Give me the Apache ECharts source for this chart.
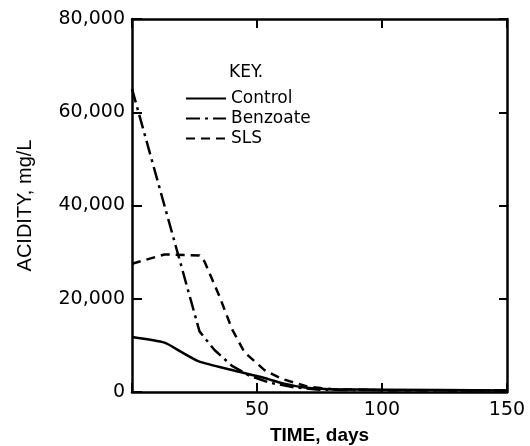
<!DOCTYPE html>
<html>
<head>
<meta charset="utf-8">
<script src="https://cdn.jsdelivr.net/npm/echarts@6/dist/echarts.min.js"></script>
<style>
html,body{margin:0;padding:0;background:#fff;}
#c{width:530px;height:446px;}
</style>
</head>
<body>
<div id="c"></div>
<script>
var xTicks = [0, 50, 100, 150];
var yTicks = [0, 20000, 40000, 60000, 80000];

var controlDays   = [0, 13, 20, 27, 40, 53, 60, 70, 80, 100, 150];
var controlValues = [11800, 10600, 8500, 6500, 4700, 3000, 1900, 900, 600, 500, 300];

var benzoateDays   = [0, 27, 33, 40, 47, 55, 65, 75, 100, 150];
var benzoateValues = [65000, 13000, 9000, 5600, 3500, 2000, 1000, 500, 400, 300];

var slsDays   = [0, 13, 27, 29, 35, 40, 45, 53, 60, 70, 80, 100, 150];
var slsValues = [27500, 29500, 29300, 28000, 20500, 13500, 8500, 4700, 2800, 1200, 600, 400, 300];

function pairs(d, v) { return d.map(function (x, i) { return [x, v[i]]; }); }

var FONT = 'DejaVu Sans';
var FONT2 = 'Liberation Sans';
var chart = echarts.init(document.getElementById('c'));
function axisLine() { return { show: true, onZero: false, lineStyle: { color: '#000', width: 2.5 } }; }
function tick(len) { return { show: true, inside: true, length: len, lineStyle: { color: '#000', width: 2 } }; }

chart.setOption({
  animation: false,
  backgroundColor: '#fff',
  textStyle: { fontFamily: FONT, color: '#000' },
  grid: { left: 132, right: 23, top: 19, bottom: 54, containLabel: false, outerBoundsMode: 'none' },
  legend: {
    orient: 'vertical',
    left: 185,
    top: 90,
    padding: 0,
    itemWidth: 40,
    itemHeight: 14,
    itemGap: 3,
    itemStyle: { opacity: 0 },
    textStyle: { fontFamily: FONT, fontSize: 17, color: '#000' },
    data: ['Control', 'Benzoate', 'SLS']
  },
  graphic: [{
    type: 'text',
    left: 229,
    top: 64,
    style: { text: 'KEY.', font: '17px "DejaVu Sans"', fill: '#000' }
  }],
  xAxis: [{
    type: 'value',
    min: xTicks[0],
    max: xTicks[xTicks.length - 1],
    interval: 50,
    position: 'bottom',
    name: 'TIME, days',
    nameLocation: 'middle',
    nameGap: 34,
    nameTextStyle: { fontFamily: FONT2, fontSize: 19, fontWeight: 'bold', color: '#000' },
    axisLine: axisLine(),
    axisTick: tick(9),
    axisLabel: {
      fontFamily: FONT, fontSize: 19, color: '#000', margin: 9,
      formatter: function (v) { return v === 0 ? '' : String(v); }
    },
    splitLine: { show: false }
  }, {
    type: 'value',
    min: xTicks[0],
    max: xTicks[xTicks.length - 1],
    interval: 50,
    position: 'top',
    axisLine: axisLine(),
    axisTick: tick(9),
    axisLabel: { show: false },
    splitLine: { show: false }
  }],
  yAxis: [{
    type: 'value',
    min: yTicks[0],
    max: yTicks[yTicks.length - 1],
    interval: 20000,
    position: 'left',
    name: 'ACIDITY, mg/L',
    nameLocation: 'middle',
    nameGap: 97,
    nameTextStyle: { fontFamily: FONT2, fontSize: 20, color: '#000' },
    axisLine: axisLine(),
    axisTick: tick(10),
    axisLabel: {
      fontFamily: FONT, fontSize: 19, color: '#000', margin: 7,
      formatter: function (v) { return v.toLocaleString('en-US'); }
    },
    splitLine: { show: false }
  }, {
    type: 'value',
    min: yTicks[0],
    max: yTicks[yTicks.length - 1],
    interval: 20000,
    position: 'right',
    axisLine: axisLine(),
    axisTick: tick(8),
    axisLabel: { show: false },
    splitLine: { show: false }
  }],
  series: [{
    name: 'Control',
    type: 'line',
    symbol: 'none',
    smooth: 0.2,
    data: pairs(controlDays, controlValues),
    lineStyle: { color: '#000', width: 2.5, type: 'solid' },
    itemStyle: { color: '#000' }
  }, {
    name: 'Benzoate',
    type: 'line',
    symbol: 'none',
    data: pairs(benzoateDays, benzoateValues),
    lineStyle: { color: '#000', width: 2.5, type: [14, 5, 3, 5] },
    itemStyle: { color: '#000' }
  }, {
    name: 'SLS',
    type: 'line',
    symbol: 'none',
    data: pairs(slsDays, slsValues),
    lineStyle: { color: '#000', width: 2.5, type: [9, 6] },
    itemStyle: { color: '#000' }
  }]
});
</script>
</body>
</html>
